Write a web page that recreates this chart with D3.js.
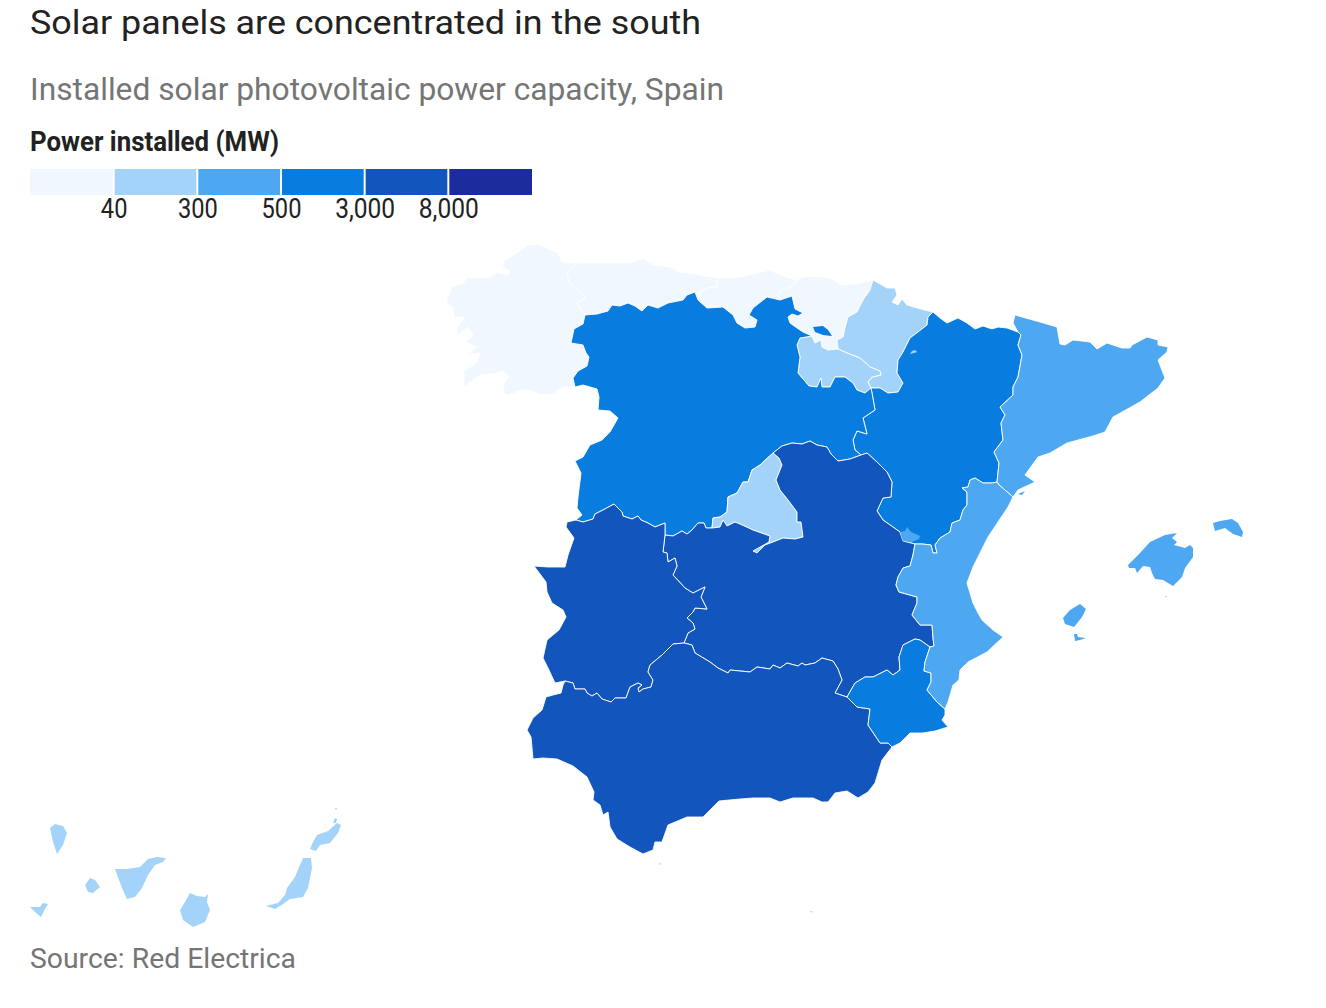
<!DOCTYPE html>
<meta charset="utf-8">
<title>Solar panels are concentrated in the south</title>
<style>

body {
  margin: 0;
  background: #fff;
}

text {
  font-family: Roboto, sans-serif;
}
.region {
  stroke: #fff;
  stroke-width: .9px;
  stroke-linejoin: round;
}
</style>
<body>
<script src="https://cdn.jsdelivr.net/npm/d3@7/dist/d3.min.js"></script>
<script>

// legend
var binLimits = [40, 300, 500, 3000, 8000];
var binColors = ["#f0f7ff", "#a3d3f8", "#4ea8f1", "#097ddf", "#1255bc", "#1c2c9c"];
var binLabels = ["40", "300", "500", "3,000", "8,000"];

// installed MW, estimated from the colour band of each region
var regionNames  = ["Galicia", "Asturias", "Cantabria", "País Vasco", "Navarra", "La Rioja", "Aragón", "Cataluña", "Castilla y León", "Madrid", "Castilla-La Mancha", "Extremadura", "Andalucía", "Murcia", "C. Valenciana", "Baleares", "Canarias"];
var regionValues = [20, 2, 3, 30, 170, 90, 2000, 450, 1800, 100, 5000, 6000, 6500, 1500, 450, 350, 250];

// borders and coasts, in map grid units (east, north)
var coastGalicia = [[1152,1474],[1124,1476],[1116,1494],[1096,1502],[1078,1512],[1056,1510],[1036,1496],[1006,1476],[1006,1464],[1020,1458],[1014,1448],[996,1456],[980,1446],[954,1444],[936,1446],[926,1434],[904,1426],[892,1396],[906,1384],[908,1364],[930,1366],[914,1346],[914,1328],[936,1346],[946,1330],[930,1316],[954,1306],[934,1290],[960,1294],[954,1276],[928,1258],[928,1226],[960,1250],[994,1254],[1006,1258],[1018,1246],[1006,1230],[1010,1210],[1026,1212],[1040,1220],[1060,1220],[1080,1210],[1106,1212],[1126,1226],[1150,1226]];
var galiciaAsturias = [[1152,1474],[1134,1454],[1138,1436],[1154,1420],[1172,1406],[1154,1394],[1170,1370]];
var galiciaCastile = [[1170,1370],[1166,1352],[1148,1342],[1142,1314],[1166,1310],[1172,1294],[1178,1286],[1174,1268],[1156,1258],[1146,1244],[1150,1226]];
var castilePortugal = [[1150,1226],[1166,1230],[1194,1222],[1198,1206],[1196,1180],[1220,1178],[1236,1164],[1220,1136],[1204,1120],[1180,1110],[1166,1086],[1150,1078],[1162,1054],[1156,1006],[1154,984],[1164,970],[1152,960]];
var castileExtremadura = [[1152,960],[1166,956],[1186,962],[1190,972],[1206,980],[1228,992],[1244,976],[1246,968],[1264,962],[1276,968],[1282,960],[1296,954],[1310,946],[1330,954],[1330,930]];
var castileMancha = [[1330,930],[1346,928],[1364,938],[1374,932],[1384,940],[1396,954],[1408,954],[1412,944],[1424,944]];
var castileMadrid = [[1424,944],[1426,964],[1440,966],[1454,976],[1456,1006],[1474,1014],[1486,1036],[1496,1036],[1504,1060],[1520,1070],[1546,1094]];
var madridMancha = [[1424,944],[1440,946],[1446,960],[1454,948],[1470,956],[1480,952],[1506,940],[1540,928],[1538,916],[1506,898],[1514,894],[1530,910],[1546,916],[1566,924],[1590,922],[1606,926],[1602,956],[1594,956],[1594,976],[1576,1000],[1560,1020],[1552,1040],[1564,1070],[1558,1084],[1546,1094]];
var castileManchaNorth = [[1546,1094],[1564,1108],[1584,1114],[1604,1112],[1620,1118],[1634,1110],[1654,1106],[1662,1092],[1676,1078],[1700,1082],[1722,1090]];
var castileAragon = [[1722,1090],[1710,1100],[1706,1120],[1714,1138],[1734,1132],[1726,1164],[1750,1180],[1744,1214],[1742,1224]];
var castileRioja = [[1742,1224],[1730,1214],[1714,1220],[1706,1234],[1690,1246],[1670,1246],[1660,1226],[1644,1226],[1642,1244],[1634,1226],[1618,1228],[1596,1254],[1600,1286],[1594,1310],[1600,1324],[1624,1328]];
var castileBasque = [[1560,1400],[1584,1408],[1590,1382],[1606,1374],[1596,1368],[1584,1372],[1576,1366],[1580,1354],[1594,1344],[1606,1336],[1624,1328]];
var castileCantabria = [[1396,1400],[1414,1384],[1446,1386],[1466,1370],[1474,1354],[1490,1344],[1510,1346],[1514,1360],[1498,1370],[1506,1384],[1534,1406],[1560,1400]];
var castileAsturias = [[1170,1370],[1194,1372],[1216,1378],[1224,1390],[1240,1388],[1256,1394],[1270,1388],[1284,1378],[1296,1390],[1316,1384],[1336,1394],[1366,1400],[1374,1410],[1390,1416],[1396,1400]];
var coastAsturias = [[1152,1474],[1200,1474],[1260,1474],[1286,1484],[1306,1470],[1340,1466],[1360,1456],[1400,1450],[1434,1444]];
var asturiasCantabria = [[1434,1444],[1434,1426],[1416,1424],[1398,1414],[1396,1400]];
var coastCantabria = [[1434,1444],[1480,1446],[1514,1454],[1540,1460],[1560,1450],[1592,1440]];
var cantabriaBasque = [[1592,1440],[1592,1434],[1580,1426],[1560,1420],[1558,1406],[1560,1400]];
var coastBasque = [[1592,1440],[1606,1446],[1630,1448],[1660,1444],[1686,1430],[1720,1434],[1746,1440]];
var basqueNavarra = [[1746,1440],[1740,1420],[1726,1400],[1714,1376],[1696,1366],[1690,1344],[1686,1326],[1674,1320],[1676,1302]];
var basqueRioja = [[1676,1302],[1656,1300],[1644,1306],[1642,1320],[1630,1314],[1624,1328]];
var riojaNavarra = [[1742,1224],[1736,1236],[1744,1246],[1762,1250],[1760,1258],[1740,1266],[1720,1284],[1694,1294],[1676,1302]];
var borderNavarra = [[1746,1440],[1760,1432],[1774,1424],[1790,1424],[1794,1410],[1784,1396],[1796,1390],[1804,1402],[1814,1390],[1834,1384],[1866,1376]];
var navarraAragon = [[1866,1376],[1856,1366],[1854,1350],[1836,1336],[1820,1324],[1806,1296],[1796,1280],[1794,1254],[1806,1234],[1796,1216],[1776,1214],[1760,1224],[1742,1224]];
var borderAragon = [[1866,1376],[1880,1364],[1894,1354],[1916,1364],[1934,1354],[1950,1342],[1966,1348],[1984,1342],[1996,1346],[2014,1344],[2036,1336]];
var aragonCatalonia = [[2036,1336],[2042,1330],[2036,1310],[2044,1290],[2036,1246],[2026,1226],[2026,1210],[2000,1186],[2010,1170],[2002,1154],[2006,1120],[1988,1096],[1998,1074],[1994,1036]];
var aragonValencia = [[1994,1036],[1984,1034],[1966,1034],[1950,1044],[1940,1040],[1936,1026],[1924,1024],[1934,1016],[1934,990],[1926,980],[1920,960],[1904,954],[1900,936],[1880,924],[1870,910],[1874,894],[1866,894],[1862,910],[1844,912],[1830,912]];
var aragonMancha = [[1830,912],[1806,918],[1800,936],[1786,946],[1766,960],[1754,978],[1766,1004],[1782,1006],[1784,1036],[1774,1056],[1754,1076],[1734,1094],[1722,1090]];
var cataloniaValencia = [[1994,1036],[1998,1030],[2010,1020],[2026,1006]];
var coastCatalonia = [[2026,1006],[2036,1020],[2070,1036],[2050,1050],[2076,1086],[2100,1094],[2134,1114],[2186,1128],[2210,1136],[2226,1166],[2280,1196],[2316,1224],[2330,1244],[2316,1280],[2334,1296],[2336,1306],[2316,1310],[2316,1320],[2294,1326],[2264,1310],[2260,1304],[2244,1304],[2214,1314],[2194,1302],[2180,1316],[2146,1320],[2130,1310],[2120,1312],[2114,1346],[2080,1356],[2030,1370],[2026,1354],[2036,1336]];
var coastValencia = [[1890,582],[1896,596],[1906,630],[1918,640],[1920,660],[1936,676],[1974,696],[2006,726],[1986,740],[1964,760],[1956,774],[1946,794],[1934,834],[1946,866],[1976,926],[1996,956],[2016,986],[2026,1006]];
var valenciaMancha = [[1830,912],[1826,890],[1820,868],[1806,864],[1796,846],[1792,830],[1798,816],[1834,806],[1834,794],[1824,770],[1840,750],[1864,750],[1866,724],[1868,708],[1860,706]];
var valenciaMurcia = [[1860,706],[1850,676],[1848,658],[1862,654],[1862,636],[1854,620],[1874,596],[1890,582]];
var murciaMancha = [[1860,706],[1840,720],[1830,722],[1806,710],[1798,686],[1800,660],[1786,650],[1774,660],[1746,646],[1730,646],[1710,634],[1694,606]];
var murciaAndalusia = [[1694,606],[1714,586],[1740,582],[1736,550],[1760,514],[1776,514],[1784,506]];
var coastMurcia = [[1784,506],[1800,514],[1820,534],[1834,534],[1846,534],[1870,538],[1896,546],[1884,560],[1890,570],[1890,582]];
var andalusiaMancha = [[1694,606],[1670,614],[1684,640],[1676,662],[1666,678],[1644,684],[1630,674],[1610,670],[1604,674],[1596,668],[1574,674],[1560,664],[1546,670],[1540,662],[1514,666],[1500,656],[1460,660],[1456,654],[1436,664],[1420,676],[1390,694],[1384,710],[1368,714]];
var extremaduraMancha = [[1368,714],[1376,734],[1390,742],[1386,754],[1374,764],[1386,776],[1390,784],[1414,782],[1402,806],[1410,826],[1386,814],[1370,824],[1346,850],[1354,868],[1350,884],[1336,876],[1334,894],[1326,896],[1330,930]];
var andalusiaExtremadura = [[1368,714],[1346,712],[1324,690],[1300,670],[1296,656],[1306,640],[1302,626],[1286,622],[1278,616],[1276,624],[1284,630],[1276,634],[1260,626],[1252,604],[1230,604],[1222,596],[1204,602],[1194,614],[1184,608],[1174,614],[1170,622],[1150,622],[1146,634],[1130,638]];
var extremaduraPortugal = [[1152,960],[1134,956],[1132,946],[1148,924],[1136,890],[1130,866],[1096,866],[1068,868],[1092,836],[1094,816],[1104,794],[1126,780],[1132,766],[1118,740],[1094,720],[1086,684],[1096,664],[1110,634],[1130,638]];
var coastAndalusia = [[1130,638],[1126,630],[1122,614],[1106,610],[1092,606],[1084,580],[1066,564],[1054,540],[1062,526],[1066,482],[1086,484],[1114,482],[1146,468],[1174,446],[1188,416],[1186,400],[1200,390],[1206,370],[1216,376],[1220,346],[1234,322],[1260,306],[1286,292],[1306,300],[1310,316],[1324,316],[1336,350],[1374,366],[1406,366],[1416,376],[1438,398],[1480,402],[1506,404],[1540,404],[1560,396],[1586,404],[1626,404],[1644,396],[1656,396],[1670,414],[1694,418],[1716,404],[1736,416],[1750,434],[1764,480],[1784,506]];

// islands
var mallorca = [[2256,870],[2280,894],[2300,916],[2330,930],[2354,934],[2344,924],[2354,916],[2348,910],[2370,904],[2380,910],[2386,904],[2386,886],[2370,864],[2364,846],[2346,828],[2326,840],[2310,842],[2304,854],[2300,866],[2286,868],[2274,854],[2270,864],[2258,864]];
var menorca = [[2426,954],[2440,958],[2464,962],[2476,954],[2486,936],[2484,926],[2466,932],[2450,944],[2430,938]];
var cabrera = [[2330,808],[2334,808],[2332,806]];
var ibiza = [[2126,764],[2140,780],[2160,792],[2172,782],[2164,766],[2148,746],[2130,752]];
var formentera = [[2148,732],[2154,732],[2156,726],[2172,724],[2160,720],[2150,718]];
var laPalma = [[100,344],[110,352],[126,348],[134,334],[126,310],[114,292],[106,316]];
var elHierro = [[60,186],[80,186],[86,194],[96,192],[90,182],[82,166],[70,176]];
var laGomera = [[170,230],[180,244],[190,240],[200,226],[186,214],[176,216]];
var tenerife = [[230,262],[254,262],[280,266],[296,282],[314,286],[332,284],[326,276],[310,270],[296,250],[284,224],[270,206],[254,202],[244,224]];
var granCanaria = [[380,214],[394,208],[410,206],[416,212],[414,196],[420,180],[410,156],[386,146],[366,160],[360,180],[370,196]];
var fuerteventura = [[606,284],[622,284],[624,264],[616,224],[606,206],[580,202],[566,192],[550,182],[532,188],[556,194],[570,210],[574,224],[590,246],[600,270]];
var lanzarote = [[620,302],[626,316],[634,330],[656,338],[674,354],[682,350],[676,334],[660,314],[640,310],[632,298]];
var laGraciosa = [[666,354],[670,364],[674,362],[672,354]];
var alegranza = [[670,384],[674,384],[672,380]];

// enclaves sit on top of the region around them
var trevino = [[1626,1346],[1646,1348],[1656,1340],[1664,1328],[1646,1330],[1630,1336]];
var rincon = [[1800,936],[1810,938],[1814,946],[1822,936],[1840,928],[1838,922],[1824,916],[1806,918]];
var petilla = [[1830,1300],[1834,1296],[1828,1294],[1820,1292],[1824,1298]];
var ebroDelta = [[2036,1012],[2050,1018],[2044,1010]];
var enclaveShapes = [trevino, rincon, petilla, ebroDelta];
var enclaveValues = [1800, 450, 170, 450];

// Ceuta and Melilla have no colour band
var ceuta = [[1316,276],[1324,272],[1320,270]];
var melilla = [[1620,178],[1626,178],[1622,174]];

function rev(a) { return a.slice().reverse(); }

var regionShapes = [
  [d3.merge([coastGalicia, rev(galiciaCastile), rev(galiciaAsturias)])],
  [d3.merge([coastAsturias, asturiasCantabria, rev(castileAsturias), rev(galiciaAsturias)])],
  [d3.merge([coastCantabria, cantabriaBasque, rev(castileCantabria), rev(asturiasCantabria)])],
  [d3.merge([coastBasque, basqueNavarra, basqueRioja, rev(castileBasque), rev(cantabriaBasque)])],
  [d3.merge([borderNavarra, navarraAragon, riojaNavarra, rev(basqueNavarra)])],
  [d3.merge([castileRioja, rev(basqueRioja), rev(riojaNavarra)])],
  [d3.merge([borderAragon, aragonCatalonia, aragonValencia, aragonMancha, castileAragon, rev(navarraAragon)])],
  [d3.merge([aragonCatalonia, cataloniaValencia, coastCatalonia])],
  [d3.merge([castilePortugal, castileExtremadura, castileMancha, castileMadrid, castileManchaNorth, castileAragon, castileRioja, rev(castileBasque), rev(castileCantabria), rev(castileAsturias), galiciaCastile])],
  [d3.merge([castileMadrid, rev(madridMancha)])],
  [d3.merge([castileMancha, madridMancha, castileManchaNorth, rev(aragonMancha), valenciaMancha, murciaMancha, andalusiaMancha, extremaduraMancha])],
  [d3.merge([extremaduraPortugal, rev(andalusiaExtremadura), extremaduraMancha, rev(castileExtremadura)])],
  [d3.merge([coastAndalusia, rev(murciaAndalusia), andalusiaMancha, andalusiaExtremadura])],
  [d3.merge([murciaMancha, murciaAndalusia, coastMurcia, rev(valenciaMurcia)])],
  [d3.merge([coastValencia, rev(cataloniaValencia), aragonValencia, valenciaMancha, valenciaMurcia])],
  [mallorca, menorca, cabrera, ibiza, formentera],
  [laPalma, elHierro, laGomera, tenerife, granCanaria, fuerteventura, lanzarote, laGraciosa, alegranza]
];

var w = 1326,
    h = 1008;

var svg = d3.select("body").append("svg")
    .attr("width", w)
    .attr("height", h)
    .style("display", "block");

var x = d3.scaleLinear().domain([0, 2652]).range([0, 1326]);
var y = d3.scaleLinear().domain([0, 2000]).range([1000, 0]);

var color = d3.scaleThreshold().domain(binLimits).range(binColors);

var ring = d3.line()
    .x(function(d) { return x(d[0]); })
    .y(function(d) { return y(d[1]); })
    .curve(d3.curveLinearClosed);

function shapePath(rings) {
  return rings.map(ring).join("");
}

// map; the island groups have no borders to draw
svg.append("g").selectAll("path")
    .data(regionNames)
  .enter().append("path")
    .attr("class", "region")
    .attr("d", function(d, i) { return shapePath(regionShapes[i]); })
    .style("fill", function(d, i) { return color(regionValues[i]); })
    .style("stroke", function(d, i) { return regionShapes[i].length > 1 ? "none" : null; })
  .append("title")
    .text(function(d) { return d; });

svg.append("g").selectAll("path")
    .data(enclaveShapes)
  .enter().append("path")
    .attr("d", ring)
    .style("fill", function(d, i) { return color(enclaveValues[i]); });

svg.append("g").selectAll("path")
    .data([ceuta, melilla])
  .enter().append("path")
    .attr("d", ring)
    .style("fill", "#d9d9d9");

// heading
svg.append("text")
    .attr("x", 30)
    .attr("y", 34)
    .attr("textLength", 671)
    .attr("lengthAdjust", "spacingAndGlyphs")
    .style("font-size", "34px")
    .style("fill", "#222")
    .text("Solar panels are concentrated in the south");

svg.append("text")
    .attr("x", 30)
    .attr("y", 100)
    .attr("textLength", 694)
    .attr("lengthAdjust", "spacingAndGlyphs")
    .style("font-size", "31px")
    .style("fill", "#757575")
    .text("Installed solar photovoltaic power capacity, Spain");

svg.append("text")
    .attr("x", 30)
    .attr("y", 151)
    .attr("textLength", 249)
    .attr("lengthAdjust", "spacingAndGlyphs")
    .style("font-size", "27px")
    .style("font-weight", 700)
    .style("fill", "#222")
    .text("Power installed (MW)");

// legend
var legendX = d3.scaleLinear().domain([0, binColors.length]).range([30, 532]);

svg.append("g").selectAll("rect")
    .data(binColors)
  .enter().append("rect")
    .attr("x", function(d, i) { return legendX(i) + (i ? 1 : 0); })
    .attr("y", 169)
    .attr("width", function(d, i) { return legendX(i + 1) - legendX(i) - (i ? 1 : 0) - (i < binColors.length - 1 ? 1 : 0); })
    .attr("height", 26)
    .style("fill", function(d) { return d; });

var legendAxis = d3.axisBottom(legendX)
    .tickValues(d3.range(1, binColors.length))
    .tickSize(0)
    .tickPadding(0)
    .tickFormat(function(d) { return binLabels[d - 1]; });

var axisG = svg.append("g")
    .attr("transform", "translate(0,198)")
    .call(legendAxis);

axisG.select(".domain").remove();
axisG.selectAll("text")
    .attr("dy", null)
    .attr("y", 20)
    .attr("textLength", function(d) { return binLabels[d - 1].length > 3 ? 60 : binLabels[d - 1].length * 13.3; })
    .attr("lengthAdjust", "spacingAndGlyphs")
    .style("font-family", "Roboto, sans-serif")
    .style("font-size", "27px")
    .style("fill", "#222");

// source
svg.append("text")
    .attr("x", 30)
    .attr("y", 968)
    .attr("textLength", 266)
    .attr("lengthAdjust", "spacingAndGlyphs")
    .style("font-size", "27px")
    .style("fill", "#757575")
    .text("Source: Red Electrica");

</script>
</body>
